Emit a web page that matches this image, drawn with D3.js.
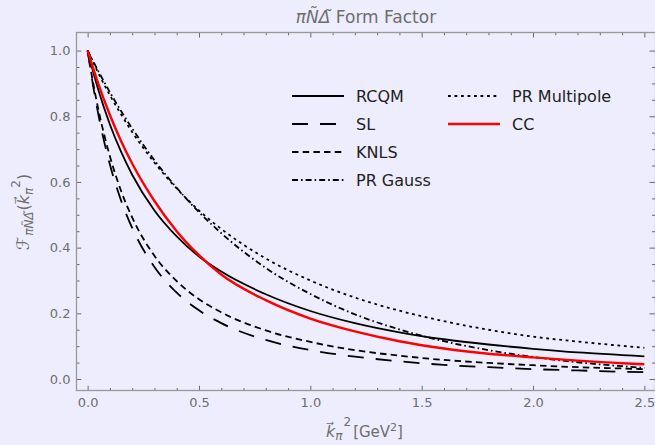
<!DOCTYPE html>
<html>
<head>
<meta charset="utf-8">
<script src="https://cdn.jsdelivr.net/npm/d3@7"></script>
<style>
  html, body { margin: 0; padding: 0; background: #ededfd; }
  svg { display: block; font-family: "DejaVu Sans", sans-serif; }
</style>
</head>
<body>
<div id="chart-wrap"></div>
<script>
// k_pi^2 grid [GeV^2] and form factor values
var kSq = [0, 0.025, 0.05, 0.1, 0.15, 0.2, 0.3, 0.4, 0.5, 0.6, 0.8, 1.0, 1.2, 1.4, 1.6, 1.8, 2.0, 2.2, 2.4, 2.5];
var rcqm = [1, 0.935, 0.876, 0.775, 0.692, 0.622, 0.513, 0.434, 0.373, 0.327, 0.258, 0.207, 0.170, 0.142, 0.121, 0.105, 0.092, 0.081, 0.073, 0.069];
var sl = [1, 0.891, 0.799, 0.653, 0.544, 0.460, 0.341, 0.263, 0.209, 0.170, 0.119, 0.088, 0.068, 0.054, 0.043, 0.036, 0.030, 0.026, 0.022, 0.021];
var knls = [1, 0.900, 0.815, 0.678, 0.573, 0.492, 0.375, 0.298, 0.243, 0.203, 0.148, 0.113, 0.088, 0.071, 0.058, 0.049, 0.042, 0.036, 0.032, 0.030];
var prGauss = [1, 0.967, 0.935, 0.873, 0.816, 0.763, 0.666, 0.582, 0.508, 0.444, 0.338, 0.259, 0.197, 0.151, 0.115, 0.088, 0.067, 0.051, 0.039, 0.034];
var prMultipole = [1, 0.964, 0.929, 0.864, 0.806, 0.752, 0.659, 0.580, 0.513, 0.457, 0.367, 0.300, 0.248, 0.208, 0.176, 0.150, 0.129, 0.114, 0.101, 0.095];
var cc = [1, 0.946, 0.895, 0.804, 0.725, 0.656, 0.542, 0.450, 0.377, 0.318, 0.240, 0.184, 0.145, 0.115, 0.093, 0.077, 0.066, 0.056, 0.048, 0.045];

var xTicks = [0, 0.5, 1.0, 1.5, 2.0, 2.5];
var yTicks = [0, 0.2, 0.4, 0.6, 0.8, 1.0];

var seriesNames = ["RCQM", "SL", "KNLS", "PR Gauss", "PR Multipole", "CC"];

var styles = {
  "RCQM": { color: "#000", width: 1.8, dash: null },
  "SL": { color: "#000", width: 1.8, dash: "16,12" },
  "KNLS": { color: "#000", width: 1.8, dash: "6.5,4.2" },
  "PR Gauss": { color: "#000", width: 1.8, dash: "6,3,1.6,3" },
  "PR Multipole": { color: "#000", width: 1.8, dash: "2.8,3.7" },
  "CC": { color: "#f00", width: 2.4, dash: null }
};

var seriesValues = [rcqm, sl, knls, prGauss, prMultipole, cc];

var W = 655, H = 445;
var margin = { top: 32.5, left: 76.5 },
  width = 579,
  height = 358;

var x = d3.scaleLinear().domain([-0.05, 2.55]).range([0, width]);
var y = d3.scaleLinear().domain([-0.035, 1.055]).range([height, 0]);

var svg = d3.select("#chart-wrap")
  .append("svg")
  .attr("width", W)
  .attr("height", H);

var g = svg.append("g")
  .attr("transform", "translate(" + margin.left + "," + margin.top + ")");

var tickColor = "#6a6a6a",
  frameColor = "#999",
  labelColor = "#6e6e6e";

function minorRange(a, b, step) {
  var out = [];
  for (var v = a; v <= b + 1e-9; v += step) out.push(+v.toFixed(3));
  return out;
}
var xMinor = minorRange(0, 2.5, 0.1).filter(function(v) { return xTicks.indexOf(v) < 0; });
var yMinor = minorRange(0, 1.0, 0.05).filter(function(v) { return yTicks.indexOf(v) < 0; });

function styleAxis(sel) {
  sel.select(".domain").remove();
  sel.selectAll("line").attr("stroke", tickColor).attr("stroke-width", 1);
  sel.selectAll("text")
    .attr("fill", labelColor)
    .style("font-family", "'DejaVu Sans', sans-serif")
    .style("font-size", "13px");
}

// bottom
g.append("g").attr("transform", "translate(0," + height + ")")
  .call(d3.axisBottom(x).tickValues(xTicks).tickSize(-4.7).tickPadding(7).tickFormat(d3.format(".1f")))
  .call(styleAxis);
g.append("g").attr("transform", "translate(0," + height + ")")
  .call(d3.axisBottom(x).tickValues(xMinor).tickSize(-2.5).tickFormat(""))
  .call(styleAxis);
// top
g.append("g")
  .call(d3.axisTop(x).tickValues(xTicks).tickSize(-5).tickFormat(""))
  .call(styleAxis);
g.append("g")
  .call(d3.axisTop(x).tickValues(xMinor).tickSize(-2.8).tickFormat(""))
  .call(styleAxis);
// left
g.append("g")
  .call(d3.axisLeft(y).tickValues(yTicks).tickSize(-4.7).tickPadding(6).tickFormat(d3.format(".1f")))
  .call(styleAxis);
g.append("g")
  .call(d3.axisLeft(y).tickValues(yMinor).tickSize(-3).tickFormat(""))
  .call(styleAxis);
// right
g.append("g").attr("transform", "translate(" + width + ",0)")
  .call(d3.axisRight(y).tickValues(yTicks).tickSize(-6).tickFormat(""))
  .call(styleAxis);
g.append("g").attr("transform", "translate(" + width + ",0)")
  .call(d3.axisRight(y).tickValues(yMinor).tickSize(-3.5).tickFormat(""))
  .call(styleAxis);

// frame
g.append("rect")
  .attr("width", width)
  .attr("height", height)
  .attr("fill", "none")
  .attr("stroke", frameColor)
  .attr("stroke-width", 1.3);

// curves
g.append("clipPath").attr("id", "clip")
  .append("rect").attr("width", width).attr("height", height);

var line = d3.line()
  .x(function(d) { return x(d[0]); })
  .y(function(d) { return y(d[1]); })
  .curve(d3.curveMonotoneX);

var order = [1, 2, 3, 4, 0, 5];
order.forEach(function(i) {
  var name = seriesNames[i], st = styles[name];
  var pts = kSq.map(function(k, j) { return [k, seriesValues[i][j]]; });
  g.append("path")
    .datum(pts)
    .attr("clip-path", "url(#clip)")
    .attr("fill", "none")
    .attr("stroke", st.color)
    .attr("stroke-width", st.width)
    .attr("stroke-dasharray", st.dash)
    .attr("d", line);
});

// legend
var legend = svg.append("g");
var legendPos = [
  { name: "RCQM", x: 292, y: 96 },
  { name: "SL", x: 292, y: 124 },
  { name: "KNLS", x: 292, y: 152 },
  { name: "PR Gauss", x: 292, y: 180 },
  { name: "PR Multipole", x: 448, y: 96 },
  { name: "CC", x: 448, y: 124 }
];
legendPos.forEach(function(p) {
  var st = styles[p.name];
  legend.append("line")
    .attr("x1", p.x).attr("x2", p.x + 52)
    .attr("y1", p.y).attr("y2", p.y)
    .attr("stroke", st.color)
    .attr("stroke-width", st.width)
    .attr("stroke-dasharray", st.dash);
  legend.append("text")
    .attr("x", p.x + 64)
    .attr("y", p.y)
    .attr("dy", "0.36em")
    .attr("fill", "#222")
    .style("font-size", "16px")
    .text(p.name);
});

// title
var title = svg.append("text")
  .attr("x", margin.left + 289.5)
  .attr("y", 23)
  .attr("text-anchor", "middle")
  .attr("fill", labelColor)
  .style("font-size", "17px");
title.append("tspan").style("font-style", "italic").text("\u03C0N\u0303\u0394\u0303");
title.append("tspan").text(" Form Factor");

// x label
var xl = svg.append("text")
  .attr("x", 326)
  .attr("y", 437)
  .attr("fill", labelColor)
  .style("font-size", "16px");
xl.append("tspan").style("font-style", "italic").text("k\u20D7");
xl.append("tspan").attr("dy", 3).style("font-size", "12px").style("font-style", "italic").text("\u03C0");
xl.append("tspan").attr("dy", -14).attr("dx", 1).style("font-size", "12px").text("2");
xl.append("tspan").attr("dy", 11).attr("dx", 2).style("font-size", "15px").text("[GeV");
xl.append("tspan").attr("dy", -6).style("font-size", "11px").text("2");
xl.append("tspan").attr("dy", 6).style("font-size", "15px").text("]");

// y label
var yl = svg.append("text")
  .attr("transform", "translate(29,212) rotate(-90)")
  .attr("text-anchor", "middle")
  .attr("fill", labelColor)
  .style("font-size", "17px");
yl.append("tspan").style("font-style", "italic").text("\u2131");
yl.append("tspan").attr("dy", 4).attr("dx", 1).style("font-size", "12px").style("font-style", "italic").text("\u03C0N\u0303\u0394\u0303");
yl.append("tspan").attr("dy", -4).attr("dx", 1).style("font-size", "16px").text("(");
yl.append("tspan").style("font-style", "italic").style("font-size", "16px").text("k\u20D7");
yl.append("tspan").attr("dy", 4).style("font-size", "12px").style("font-style", "italic").text("\u03C0");
yl.append("tspan").attr("dy", -13).style("font-size", "12px").text("2");
yl.append("tspan").attr("dy", 9).style("font-size", "16px").text(")");
</script>
</body>
</html>
